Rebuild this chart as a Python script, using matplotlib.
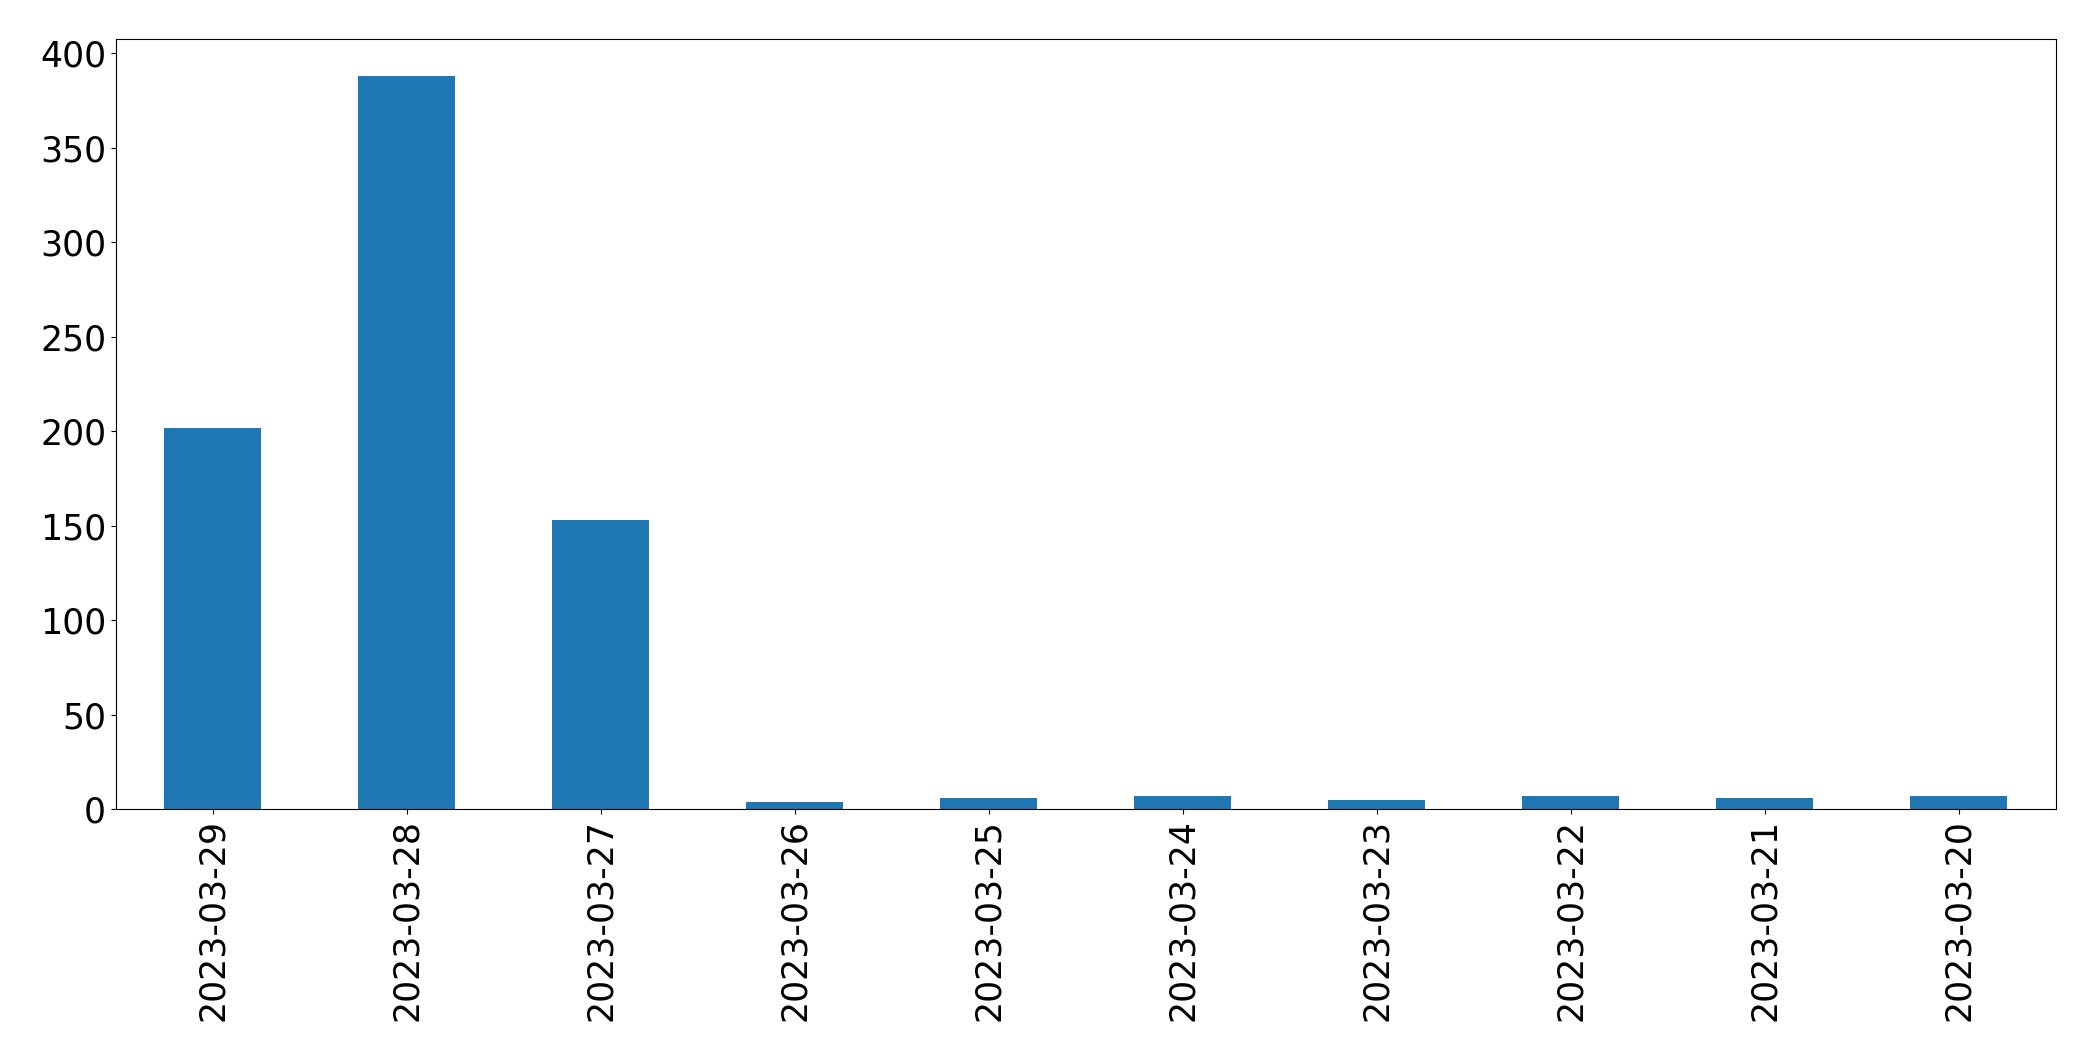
import numpy as np
import matplotlib.pyplot as plt

dates = ['2023-03-29','2023-03-28','2023-03-27','2023-03-26','2023-03-25',
         '2023-03-24','2023-03-23','2023-03-22','2023-03-21','2023-03-20']
counts = [202,388,153,4,6,7,5,7,6,7]

fig = plt.figure(figsize=(20.93,10.61), dpi=100)
ax = fig.add_axes([0.0554,0.2372,0.9269,0.7258])
x = np.arange(len(dates))
ax.bar(x, counts, width=0.5, color='#1f77b4')
ax.set_xlim(-0.5, len(dates)-0.5)
ax.set_xticks(x)
ax.set_xticklabels(dates, rotation=90, fontsize=25)
ax.tick_params(axis='y', labelsize=25)
plt.savefig('out.png', dpi=100)
